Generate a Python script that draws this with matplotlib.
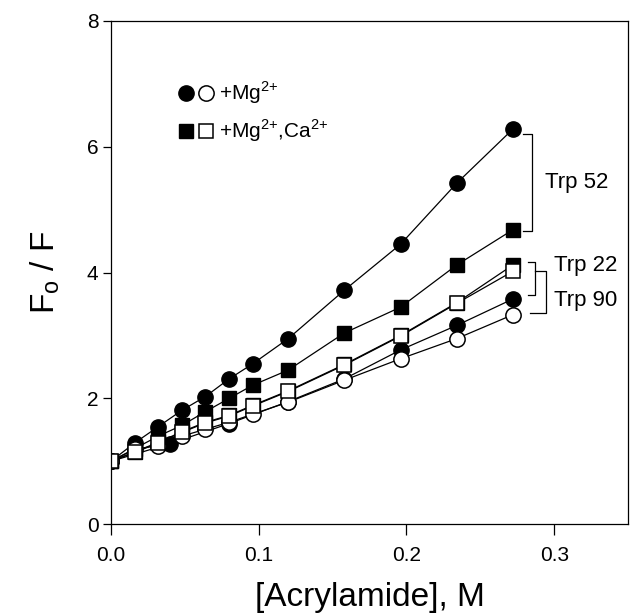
import matplotlib
matplotlib.use("Agg")
import matplotlib.pyplot as plt

plt.rcParams['font.family'] = ['Liberation Sans', 'DejaVu Sans']
plt.rcParams['mathtext.fontset'] = 'custom'
plt.rcParams['mathtext.rm'] = 'Liberation Sans'

# acrylamide concentrations (M)
conc = [0, 0.016, 0.032, 0.048, 0.064, 0.080, 0.096, 0.120, 0.158, 0.196, 0.234, 0.272]
conc_w22 = [0, 0.040, 0.080, 0.120, 0.158, 0.196, 0.234, 0.272]

# Fo/F, Trp 52
trp52_mg = [1.0, 1.29, 1.55, 1.81, 2.03, 2.31, 2.55, 2.95, 3.72, 4.45, 5.42, 6.28]
trp52_ca = [1.0, 1.20, 1.40, 1.57, 1.79, 2.00, 2.21, 2.45, 3.04, 3.45, 4.12, 4.68]
# Fo/F, Trp 22
trp22_mg = [1.0, 1.28, 1.60, 1.95, 2.31, 2.77, 3.16, 3.58]
trp22_ca = [1.0, 1.15, 1.30, 1.47, 1.62, 1.73, 1.89, 2.12, 2.54, 3.00, 3.52, 4.12]
# Fo/F, Trp 90
trp90_mg = [1.0, 1.19, 1.25, 1.40, 1.51, 1.62, 1.75, 1.94, 2.29, 2.63, 2.95, 3.33]
trp90_ca = [1.0, 1.14, 1.29, 1.46, 1.61, 1.72, 1.88, 2.11, 2.53, 2.99, 3.51, 4.02]

fig = plt.figure(figsize=(6.3, 6.16), dpi=100)
ax = fig.add_axes([0.176, 0.149, 0.821, 0.817])

lw = 0.9
ax.plot(conc, trp52_mg, '-o', color='black', lw=lw, ms=11, mfc='black', mec='black')
ax.plot(conc, trp52_ca, '-s', color='black', lw=lw, ms=10, mfc='black', mec='black')
ax.plot(conc_w22, trp22_mg, '-o', color='black', lw=lw, ms=11, mfc='black', mec='black')
ax.plot(conc, trp22_ca, '-s', color='black', lw=lw, ms=10, mfc='black', mec='black')
ax.plot(conc, trp90_mg, '-o', color='black', lw=lw, ms=11, mfc='white', mec='black', mew=1.1)
ax.plot(conc, trp90_ca, '-s', color='black', lw=lw, ms=10, mfc='white', mec='black', mew=1.1)

ax.set_xlim(0, 0.35)
ax.set_ylim(0, 8)
ax.set_xticks([0.0, 0.1, 0.2, 0.3])
ax.set_xticklabels(['0.0', '0.1', '0.2', '0.3'])
ax.set_yticks([0, 2, 4, 6, 8])
ax.tick_params(direction='out', width=0.9, labelsize=15)
ax.tick_params(axis='x', length=8, pad=8)
ax.tick_params(axis='y', length=6, pad=3)
for s in ax.spines.values():
    s.set_linewidth(0.9)

ax.set_xlabel('[Acrylamide], M', fontsize=24, labelpad=12)
ax.set_ylabel(r'F$_{\mathrm{o}}$ / F', fontsize=24, labelpad=18)

# legend drawn by hand
ax.plot([0.0505], [6.86], 'o', color='black', ms=11)
ax.plot([0.0645], [6.86], 'o', mfc='white', mec='black', ms=11, mew=1.1)
ax.text(0.0735, 6.86, r'+Mg$^{\mathrm{2{+}}}$', fontsize=15, va='center')
ax.plot([0.0505], [6.25], 's', color='black', ms=10)
ax.plot([0.0645], [6.25], 's', mfc='white', mec='black', ms=10, mew=1.1)
ax.text(0.0735, 6.25, r'+Mg$^{\mathrm{2{+}}}$,Ca$^{\mathrm{2{+}}}$', fontsize=15, va='center')

# brackets pairing the residues
def bracket(x0, x1, y0, y1, xb0=None):
    xb0 = x0 if xb0 is None else xb0
    ax.plot([x0, x1, x1, xb0], [y0, y0, y1, y1], color='black', lw=lw)

bracket(0.2787, 0.2848, 6.20, 4.66)
bracket(0.2823, 0.2868, 4.17, 3.64)
bracket(0.2868, 0.2943, 4.02, 3.35, xb0=0.2839)
ax.text(0.3155, 5.43, 'Trp 52', fontsize=16, ha='center', va='center')
ax.text(0.3215, 4.12, 'Trp 22', fontsize=16, ha='center', va='center')
ax.text(0.3215, 3.55, 'Trp 90', fontsize=16, ha='center', va='center')

fig.savefig('out.png', dpi=100)
